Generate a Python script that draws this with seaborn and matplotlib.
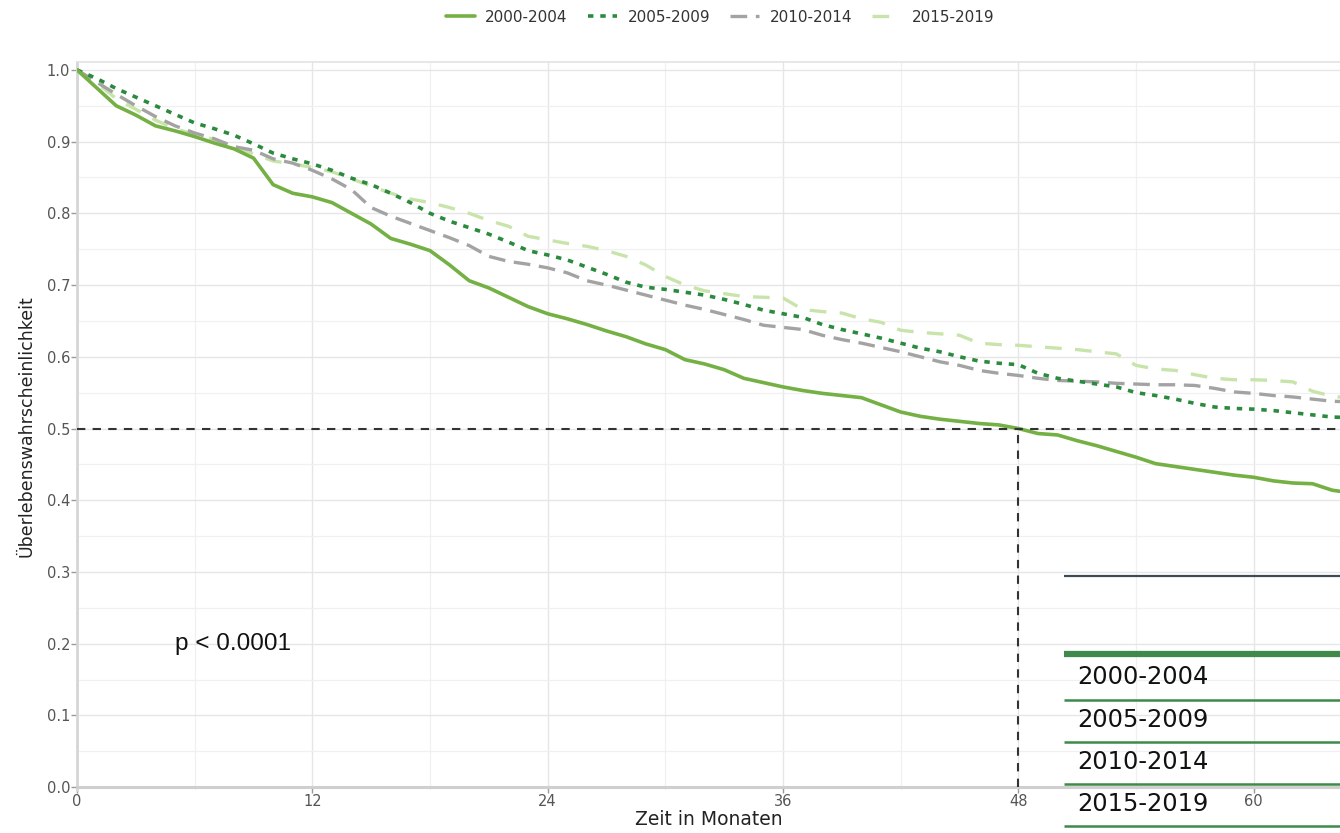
import numpy as np
import pandas as pd
import matplotlib
matplotlib.use("Agg")
import matplotlib.pyplot as plt
from matplotlib.lines import Line2D
from matplotlib.ticker import MultipleLocator
import seaborn as sns

# ---------------- data ----------------
months = list(range(0, 66))

surv_2000_2004 = [1.000, 0.975, 0.950, 0.937, 0.922, 0.915, 0.907, 0.898, 0.890, 0.877,
                  0.840, 0.828, 0.823, 0.815, 0.800, 0.785, 0.765, 0.757, 0.748, 0.728,
                  0.706, 0.696, 0.683, 0.670, 0.660, 0.653, 0.645, 0.636, 0.628, 0.618,
                  0.610, 0.596, 0.590, 0.582, 0.570, 0.564, 0.558, 0.553, 0.549, 0.546,
                  0.543, 0.533, 0.523, 0.517, 0.513, 0.510, 0.507, 0.505, 0.500, 0.493,
                  0.491, 0.483, 0.476, 0.468, 0.460, 0.451, 0.447, 0.443, 0.439, 0.435,
                  0.432, 0.427, 0.424, 0.423, 0.414, 0.410]

surv_2005_2009 = [1.000, 0.988, 0.974, 0.962, 0.950, 0.938, 0.926, 0.918, 0.909, 0.897,
                  0.884, 0.876, 0.869, 0.860, 0.849, 0.840, 0.828, 0.815, 0.800, 0.789,
                  0.780, 0.771, 0.760, 0.748, 0.742, 0.735, 0.725, 0.715, 0.704, 0.697,
                  0.694, 0.690, 0.686, 0.680, 0.673, 0.665, 0.660, 0.655, 0.645, 0.638,
                  0.632, 0.626, 0.619, 0.612, 0.607, 0.600, 0.594, 0.591, 0.589, 0.577,
                  0.570, 0.566, 0.562, 0.558, 0.550, 0.546, 0.541, 0.535, 0.530, 0.528,
                  0.527, 0.525, 0.522, 0.519, 0.516, 0.515]

surv_2010_2014 = [1.000, 0.983, 0.966, 0.950, 0.935, 0.922, 0.912, 0.904, 0.893, 0.888,
                  0.876, 0.870, 0.860, 0.848, 0.833, 0.808, 0.796, 0.786, 0.776, 0.766,
                  0.755, 0.740, 0.733, 0.729, 0.724, 0.717, 0.706, 0.700, 0.693, 0.686,
                  0.679, 0.672, 0.666, 0.659, 0.652, 0.644, 0.641, 0.638, 0.630, 0.624,
                  0.619, 0.613, 0.607, 0.600, 0.593, 0.588, 0.581, 0.577, 0.574, 0.570,
                  0.567, 0.566, 0.565, 0.563, 0.562, 0.561, 0.561, 0.560, 0.556, 0.551,
                  0.549, 0.546, 0.544, 0.541, 0.538, 0.537]

surv_2015_2019 = [1.000, 0.982, 0.960, 0.945, 0.930, 0.918, 0.910, 0.903, 0.893, 0.883,
                  0.873, 0.869, 0.864, 0.858, 0.848, 0.838, 0.828, 0.820, 0.815, 0.808,
                  0.800, 0.790, 0.782, 0.768, 0.763, 0.758, 0.754, 0.748, 0.740, 0.728,
                  0.712, 0.700, 0.692, 0.688, 0.684, 0.683, 0.682, 0.666, 0.663, 0.661,
                  0.653, 0.648, 0.637, 0.634, 0.632, 0.630, 0.619, 0.617, 0.616, 0.614,
                  0.612, 0.610, 0.607, 0.604, 0.588, 0.583, 0.581, 0.575, 0.570, 0.568,
                  0.568, 0.567, 0.565, 0.552, 0.545, 0.542]

periods = ["2000-2004", "2005-2009", "2010-2014", "2015-2019"]
x_ticks = [0, 12, 24, 36, 48, 60]
y_ticks = [0.0, 0.1, 0.2, 0.3, 0.4, 0.5, 0.6, 0.7, 0.8, 0.9, 1.0]
median_months = 48
median_surv = 0.5
p_text = "p < 0.0001"

# ---------------- styling ----------------
colors = ["#74b044", "#2a8a3e", "#a3a3a3", "#c8e4aa"]
styles = ["-", (0, (1.5, 1.9)), (0, (5.0, 2.6)), (0, (5.0, 4.0))]
widths = [2.6, 2.6, 2.4, 2.4]

sns.set_theme(style="whitegrid")
plt.rcParams["font.family"] = ["DejaVu Sans"]

W, H = 1340, 833
fig = plt.figure(figsize=(W / 100, H / 100), dpi=100)
ax_left, ax_right, ax_top, ax_bot = 77, 1340, 62, 790
ax = fig.add_axes([ax_left / W, 1 - ax_bot / H, (ax_right - ax_left) / W, (ax_bot - ax_top) / H])

df = pd.concat([
    pd.DataFrame({"Monat": months, "S": s, "Periode": p})
    for s, p in zip([surv_2000_2004, surv_2005_2009, surv_2010_2014, surv_2015_2019], periods)
])

order = [3, 2, 1, 0]
for i in order:
    sub = df[df["Periode"] == periods[i]]
    sns.lineplot(data=sub, x="Monat", y="S", ax=ax, color=colors[i], linestyle=styles[i],
                 linewidth=widths[i], estimator=None,
                 label=periods[i], legend=False, zorder=3 + (3 - i))

# median reference lines
ax.axhline(median_surv, color="#333333", lw=1.5, linestyle=(0, (4, 3.5)), zorder=6)
ax.vlines(median_months, 0, median_surv, color="#333333", lw=1.5, linestyle=(0, (4, 3.5)), zorder=6)

ax.set_xlim(0, 64.4)
ax.set_ylim(-0.004, 1.011)
ax.set_xticks(x_ticks)
ax.set_yticks(y_ticks)
ax.set_yticklabels([f"{v:.1f}" for v in y_ticks])
ax.xaxis.set_minor_locator(MultipleLocator(6))
ax.yaxis.set_minor_locator(MultipleLocator(0.05))
ax.grid(which="major", color="#e6e6e6", lw=1.0)
ax.grid(which="minor", color="#f0f0f0", lw=0.9)
ax.set_axisbelow(True)
ax.tick_params(axis="both", which="major", direction="out", length=4, width=1,
               color="#9a9a9a", labelsize=10.5, labelcolor="#555555", pad=1)
ax.tick_params(axis="both", which="minor", length=0)
ax.tick_params(axis="x", bottom=True)
ax.tick_params(axis="y", left=True)

ax.spines["right"].set_visible(False)
ax.spines["top"].set_color("#e3e3e3")
ax.spines["top"].set_linewidth(1.2)
ax.spines["left"].set_color("#d6d6d6")
ax.spines["left"].set_linewidth(2)
ax.spines["bottom"].set_color("#cfcfcf")
ax.spines["bottom"].set_linewidth(2.2)
ax.spines["bottom"].set_position(("data", 0))

ax.set_xlabel("Zeit in Monaten", fontsize=13.5, color="#222222", labelpad=1)
ax.set_ylabel("Überlebenswahrscheinlichkeit", fontsize=12.5, color="#222222", labelpad=8)

ax.text(5.0, 0.2, p_text, fontsize=17.5, family="Liberation Sans", color="#111111",
        ha="left", va="center", zorder=7)

# legend on top
handles, labels = ax.get_legend_handles_labels()
hl = dict(zip(labels, handles))
fig.legend([hl[p] for p in periods], periods, loc="center", bbox_to_anchor=(720 / W, 1 - 17 / H),
           ncol=4, frameon=False, fontsize=11, handlelength=1.9, columnspacing=1.3,
           handletextpad=0.7, labelcolor="#333333")

# risk-table overlay at bottom right (transparent, only rules and labels)
tx0, tx1 = 1064 / W, 1.0
def hline(ypx, color, lw):
    fig.add_artist(Line2D([tx0, tx1], [1 - ypx / H, 1 - ypx / H], transform=fig.transFigure,
                          color=color, lw=lw, zorder=10, solid_capstyle="butt"))
hline(576, "#3e4a54", 1.6)
hline(654, "#3f8a4a", 4.5)
for ypx in [700, 742, 784, 826]:
    hline(ypx, "#3f8a4a", 1.8)
for p, ypx in zip(periods, [677, 720, 762, 804]):
    fig.text(1077 / W, 1 - ypx / H, p, fontsize=17.4, color="#111111", ha="left", va="center",
             zorder=11)

fig.savefig("out.png", dpi=100)
